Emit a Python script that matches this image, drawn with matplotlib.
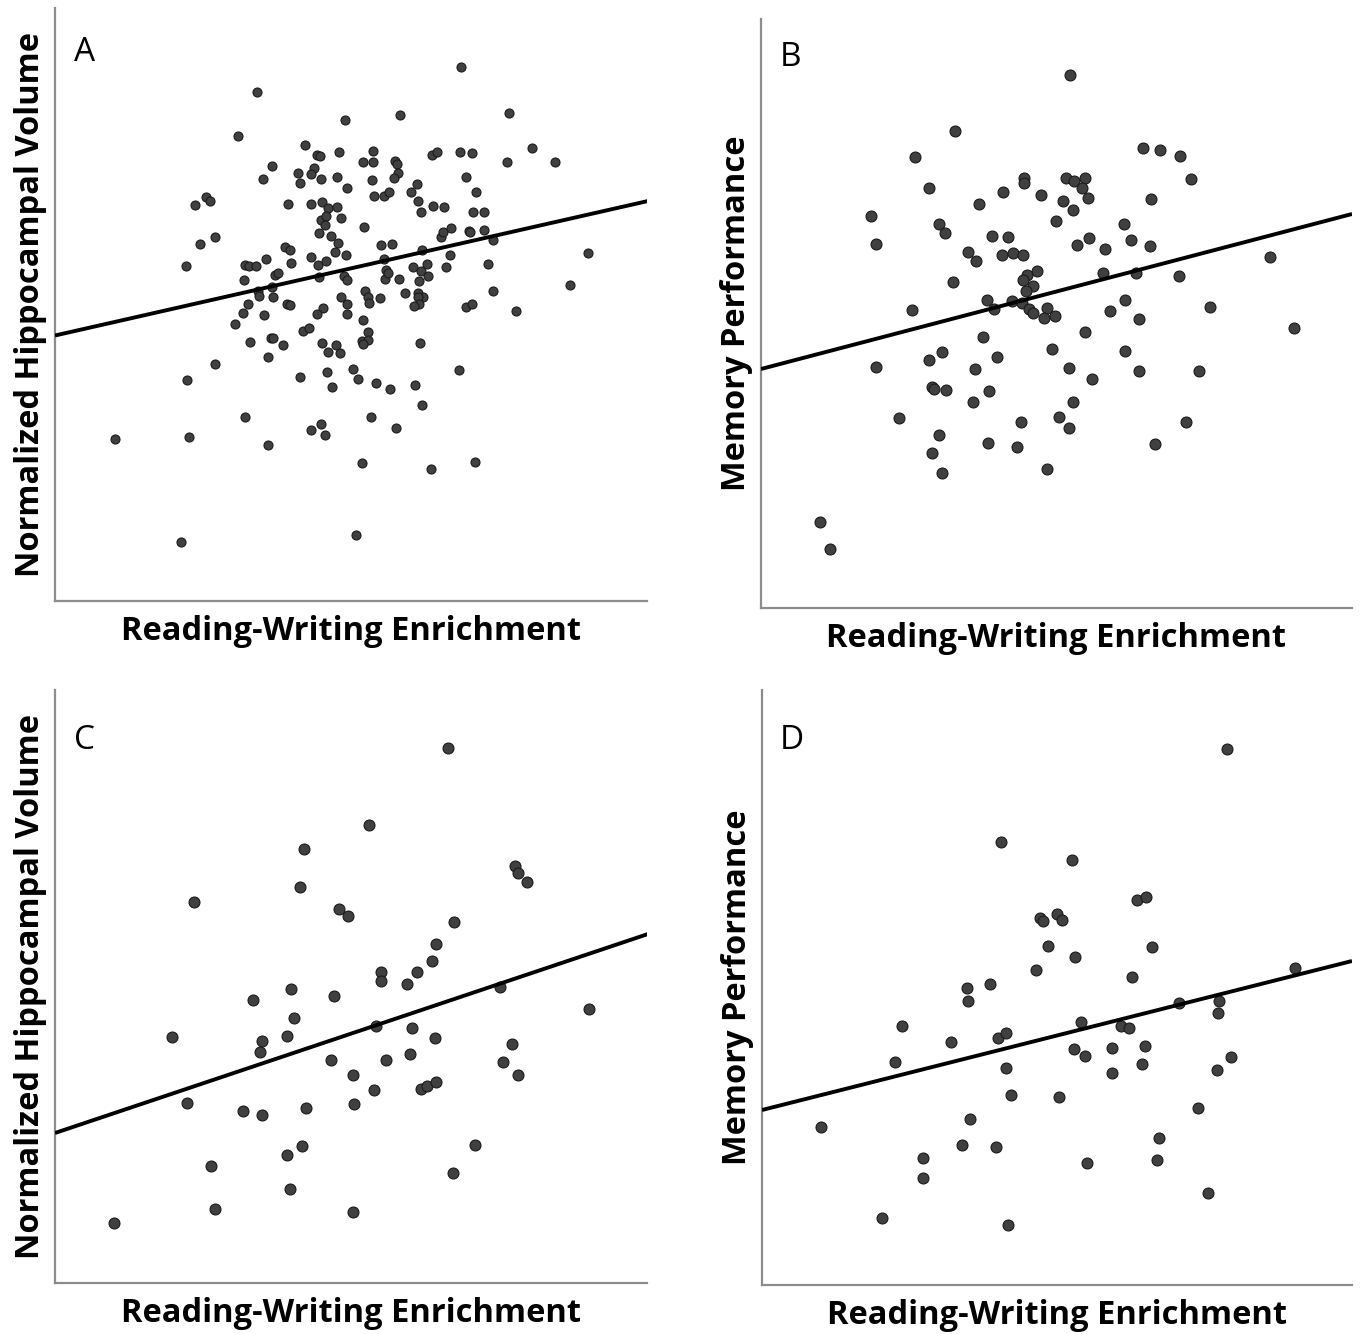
import numpy as np
import matplotlib
matplotlib.use("Agg")
import matplotlib.pyplot as plt

# values (image units, y grows downward)
a_x = [257, 238, 272, 263, 298, 300, 288, 206, 210, 195, 215, 200, 186, 245, 249, 256, 266, 285, 290, 291,
       244, 275, 278, 272, 258, 259, 273, 305,
       461, 345, 400, 509, 317, 320, 339, 373, 363, 373, 395, 397, 432, 437, 460, 472, 532, 507, 555, 314,
       311, 321, 337, 372, 398, 394, 466, 347, 417, 411, 374, 384, 389, 476, 418, 421, 433, 444, 311, 322,
       328, 337, 341, 321, 326, 325, 473, 484, 364, 319, 331, 338, 335, 346, 311, 318, 326, 381, 392, 384,
       422, 441, 443, 451, 469, 470, 484, 493, 450, 488, 446, 413, 421, 427, 428, 419, 386, 385, 388, 399,
       344, 347, 319, 365, 405, 418, 493, 570, 588, 341, 368, 380, 423, 418,
       248, 287, 290, 243, 264, 235, 303, 250, 271, 273, 283, 268, 215, 300, 187, 245, 115, 189, 268, 181,
       347, 369, 419, 414, 466, 472, 516, 323, 317, 347, 363, 309, 368, 322, 336, 328, 340, 362, 368, 363,
       420, 327, 353, 358, 332, 376, 390, 415, 459, 422, 371, 311, 321, 325, 396, 362, 431, 475, 356]
a_y = [92, 136, 166, 179, 173, 183, 204, 197, 201, 205, 237, 244, 266, 265, 266, 266, 259, 247, 250, 263,
       280, 275, 273, 287, 291, 296, 297, 145,
       67, 120, 115, 113, 155, 156, 152, 151, 162, 162, 161, 164, 155, 152, 152, 153, 148, 162, 162, 168,
       174, 179, 177, 180, 173, 178, 177, 188, 184, 192, 196, 196, 192, 192, 201, 212, 206, 207, 204, 202,
       208, 207, 218, 220, 216, 225, 212, 212, 227, 233, 236, 243, 252, 255, 257, 265, 261, 245, 244, 259,
       250, 237, 232, 228, 231, 232, 230, 240, 255, 264, 267, 267, 271, 264, 276, 281, 270, 279, 273, 279,
       276, 280, 277, 291, 293, 293, 291, 285, 253, 297, 297, 298, 297, 297,
       304, 304, 305, 313, 315, 324, 331, 342, 338, 338, 345, 357, 364, 377, 380, 417, 439, 437, 445, 542,
       304, 303, 304, 306, 307, 304, 311, 308, 314, 314, 320, 328, 332, 343, 345, 352, 353, 341, 340, 344,
       343, 372, 369, 379, 387, 383, 389, 385, 370, 405, 417, 430, 424, 435, 428, 463, 469, 462, 535]

b_x = [955, 915, 929, 871, 876, 939, 945, 979, 1003, 1024, 1024, 1041, 1063, 1056, 992, 1008, 968, 976,
       1002, 1013, 1023, 953, 1037, 1027, 1023, 1033, 1026, 912, 987, 994, 1012, 1022, 1029, 1033, 1047,
       1044, 1055, 983,
       1070, 1143, 1160, 1180, 1191, 1066, 1074, 1085, 1082, 1088, 1073, 1151, 1124, 1089, 1077, 1105, 1131,
       1150, 1270, 1103, 1136, 1179, 1125, 1110, 1139, 1210, 1294, 1085,
       942, 929, 997, 975, 876, 1052, 932, 934, 946, 989, 973, 899, 1021, 1059, 939, 988, 1017, 932, 942,
       1047, 820, 830,
       1125, 1069, 1092, 1139, 1199, 1073, 1069, 1186, 1155]
b_y = [131, 157, 188, 216, 244, 224, 233, 204, 192, 178, 183, 195, 201, 221, 236, 237, 252, 261,
       255, 253, 255, 282, 271, 275, 280, 286, 291, 310, 300, 309, 301, 303, 309, 313, 308,
       318, 316, 337,
       75, 148, 150, 156, 179, 178, 181, 178, 188, 198, 210, 199, 224, 238, 245, 249, 240,
       246, 257, 273, 273, 276, 300, 311, 319, 307, 328, 332,
       352, 360, 357, 369, 367, 349, 387, 389, 390, 391, 402, 418, 422, 417, 435, 443, 447, 453, 473,
       469, 522, 549,
       351, 368, 379, 371, 371, 402, 428, 422, 444]

c_x = [448, 369, 304, 194, 300, 339, 348, 515, 518, 527, 454, 436, 432, 417, 381, 381, 407, 253, 291, 334,
       294, 500, 589, 172, 262, 260, 287, 376, 412, 435, 331, 386, 410, 512, 503, 518, 353, 374, 421, 427,
       436, 187, 354, 243, 262, 306, 302, 475, 287, 211, 453, 290, 215, 353, 114]
c_y = [748, 825, 849, 902, 887, 909, 916, 866, 873, 882, 922, 944, 961, 972, 972, 981, 984, 1000, 989, 996,
       1018, 987, 1009, 1037, 1041, 1052, 1036, 1026, 1028, 1038, 1060, 1060, 1054, 1044, 1062, 1075, 1075,
       1090, 1089, 1086, 1082, 1103, 1104, 1111, 1115, 1108, 1146, 1145, 1155, 1166, 1173, 1189, 1209, 1212,
       1223]

d_x = [1227, 1001, 1072, 1137, 1146, 1040, 1043, 1057, 1062, 1048, 1075, 1152, 1036, 1132, 967, 990, 968,
       1295, 1179, 1219, 1218, 902, 1081, 1121, 1129, 951, 998, 1006, 895, 1006, 1074, 1085, 1112, 1145,
       1112, 1142, 1231, 1217, 1059, 1011, 1198, 821, 970, 962, 996, 1159, 1157, 923, 923, 1087, 1208, 882,
       1008]
d_y = [749, 842, 860, 900, 897, 918, 921, 914, 920, 946, 957, 947, 970, 977, 988, 984, 1001,
       968, 1003, 1001, 1013, 1026, 1022, 1026, 1028, 1042, 1038, 1033, 1062, 1068, 1049, 1056, 1048, 1046,
       1073, 1064, 1057, 1070, 1097, 1095, 1108, 1127, 1119, 1145, 1147, 1138, 1160, 1158, 1178, 1163, 1193,
       1218, 1225]

# fit lines as drawn (two end points each)
a_line = ([55, 648], [335.5, 201])
b_line = ([761, 1352], [369, 214])
c_line = ([55, 648], [1133, 934])
d_line = ([762, 1352], [1110, 961])

letters = ["A", "B", "C", "D"]
ylabels = ["Normalized Hippocampal Volume", "Memory Performance",
           "Normalized Hippocampal Volume", "Memory Performance"]
xlabel = "Reading-Writing Enrichment"

W, H = 1360, 1334
fig = plt.figure(figsize=(W / 100, H / 100), dpi=100)

# axes boxes in image pixels: left, top, right, bottom
boxes = [(55, 8, 647, 601), (761, 19, 1352, 608), (55, 690, 647, 1283), (762, 690, 1352, 1285)]
letter_pos = [(0.05, 0.925), (0.05, 0.935), (0.05, 0.915), (0.05, 0.915)]
data = [(a_x, a_y, a_line, 42), (b_x, b_y, b_line, 62), (c_x, c_y, c_line, 62), (d_x, d_y, d_line, 62)]

for i in range(4):
    l, t, r, b = boxes[i]
    ax = fig.add_axes([l / W, 1 - b / H, (r - l) / W, (b - t) / H])
    xs, ys, line, size = data[i]
    ax.scatter(xs, ys, s=size, color="#404040", edgecolors="#1a1a1a", linewidths=0.8, zorder=3)
    ax.plot(line[0], line[1], color="black", lw=2.8, zorder=4, solid_capstyle="butt")
    ax.set_xlim(l, r)
    ax.set_ylim(b, t)
    for side in ["top", "right"]:
        ax.spines[side].set_visible(False)
    for side in ["left", "bottom"]:
        ax.spines[side].set_color("#8c8c8c")
        ax.spines[side].set_linewidth(1.6)
    ax.set_xticks([])
    ax.set_yticks([])
    ax.text(letter_pos[i][0], letter_pos[i][1], letters[i], transform=ax.transAxes, fontsize=24,
            family="Open Sans", va="center", ha="center")
    ax.set_xlabel(xlabel, fontsize=23.5, fontweight="bold", family="Open Sans", labelpad=10)
    ax.set_ylabel(ylabels[i], fontsize=23.5, fontweight="bold", family="Open Sans", labelpad=6)

plt.savefig("out.png", dpi=100)
